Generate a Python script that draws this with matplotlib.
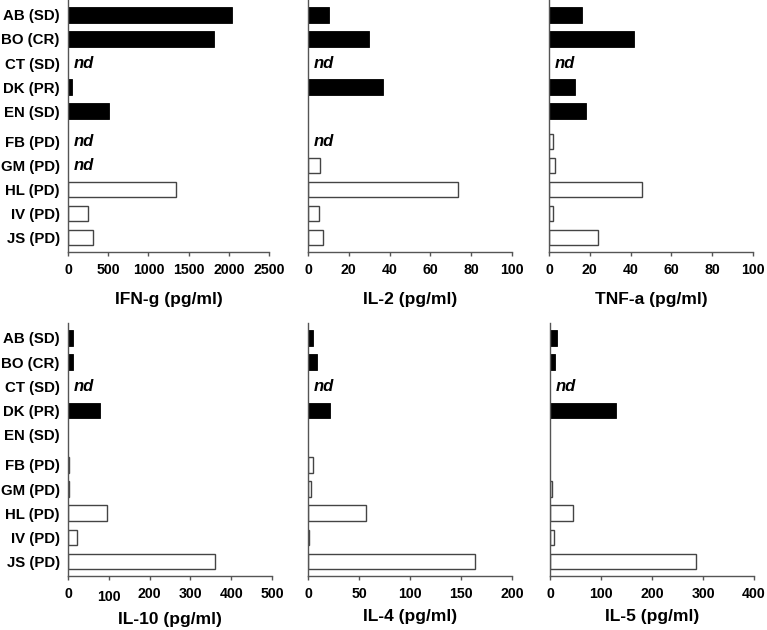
import matplotlib
matplotlib.use("Agg")
import matplotlib.pyplot as plt
import matplotlib.transforms as mtransforms

plt.rcParams["font.family"] = ["Liberation Sans", "DejaVu Sans"]
plt.rcParams["font.weight"] = "bold"

patients = ["AB (SD)", "BO (CR)", "CT (SD)", "DK (PR)", "EN (SD)",
            "FB (PD)", "GM (PD)", "HL (PD)", "IV (PD)", "JS (PD)"]
responder = [True, True, True, True, True, False, False, False, False, False]
ypos = [0, 1, 2, 3, 4, 5.25, 6.25, 7.25, 8.25, 9.25]

# None = not done ("nd")
ifng = [2040, 1815, None, 50, 510, None, None, 1345, 245, 305]
il2 = [10.3, 29.7, None, 36.6, 0, None, 5.9, 73.7, 5.2, 7.4]
tnfa = [16.2, 41.8, None, 12.5, 18, 2.0, 3.1, 45.6, 2.0, 23.8]
il10 = [11.5, 11.5, None, 78, 0, 2.5, 2.5, 96, 23, 361]
il4 = [5.2, 8.8, None, 22, 0, 4.9, 3.3, 57, 1.3, 164]
il5 = [14.4, 10.5, None, 130, 0, 0, 4, 46, 8.5, 287]

W, H = 767, 630
panels = [
    (ifng, 2500, 500, "IFN-g (pg/ml)", (68, 0, 201, 252)),
    (il2, 100, 20, "IL-2 (pg/ml)", (308, 0, 204, 252)),
    (tnfa, 100, 20, "TNF-a (pg/ml)", (549, 0, 204, 252)),
    (il10, 500, 100, "IL-10 (pg/ml)", (68, 323, 204, 253)),
    (il4, 200, 50, "IL-4 (pg/ml)", (308, 323, 204, 253)),
    (il5, 400, 100, "IL-5 (pg/ml)", (550, 323, 204, 253)),
]

fig = plt.figure(figsize=(W / 100, H / 100), dpi=100)
axis_col = "#555555"

for i, (vals, xmax, step, label, (px, py, pw, ph)) in enumerate(panels):
    ax = fig.add_axes([px / W, 1 - (py + ph) / H, pw / W, ph / H])
    for y, v, resp in zip(ypos, vals, responder):
        if v is None:
            ax.annotate("nd", xy=(0, y), xytext=(4, 0), textcoords="offset points",
                        ha="left", va="center", fontsize=12,
                        fontweight="bold", fontstyle="italic")
            continue
        if v == 0:
            continue
        if resp:
            ax.barh(y, v, height=0.66, color="black", edgecolor="black", linewidth=0.6)
        else:
            ax.barh(y, v, height=0.64, color="white", edgecolor="#444444", linewidth=1.0)
    ax.set_xlim(0, xmax)
    ax.set_ylim(9.85, -0.62)
    ax.set_xticks(range(0, xmax + 1, step))
    ax.set_yticks(ypos)
    if i % 3 == 0:
        ax.set_yticklabels(patients, fontsize=10.8, fontweight="bold")
    else:
        ax.set_yticklabels([])
    ax.tick_params(axis="y", length=0, pad=6)
    ax.tick_params(axis="x", direction="out", length=3, width=1, color=axis_col,
                   pad=5, labelsize=10.2)
    for t in ax.get_xticklabels():
        t.set_fontweight("bold")
    ax.set_xlabel(label, fontsize=12.5, fontweight="bold",
                  labelpad=11 if i < 3 else 6)
    for side in ["top", "right"]:
        ax.spines[side].set_visible(False)
    for side in ["left", "bottom"]:
        ax.spines[side].set_color(axis_col)
        ax.spines[side].set_linewidth(1.0)
    ax.patch.set_alpha(0)
    if label.startswith("IL-10"):
        # the "100" label sits a little lower in the original
        lab = ax.get_xticklabels()[1]
        lab.set_transform(lab.get_transform() +
                          mtransforms.ScaledTranslation(0, -3 / 100, fig.dpi_scale_trans))

fig.savefig("out.png", dpi=100)
